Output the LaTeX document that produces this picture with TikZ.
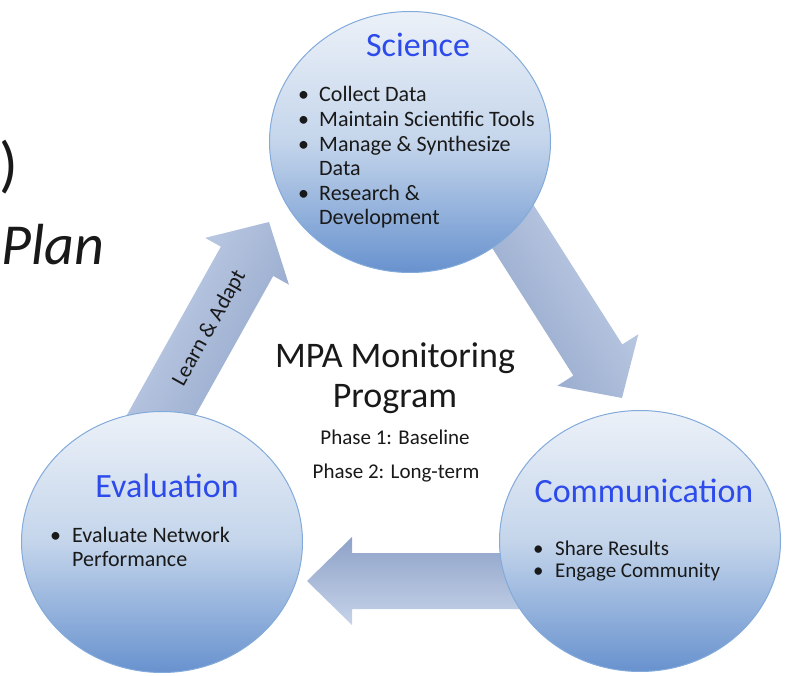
\documentclass[tikz,border=0pt]{standalone}
\usepackage{fontspec}
\setmainfont{Carlito}
\usetikzlibrary{calc,shapes.geometric}

\definecolor{titleblue}{RGB}{45,75,235}
\definecolor{ballhi}{RGB}{236,241,248}
\definecolor{ballmid}{RGB}{196,213,235}
\definecolor{balllo}{RGB}{104,146,206}
\definecolor{ballrim}{RGB}{130,170,218}
\definecolor{arrowhi}{RGB}{198,211,233}
\definecolor{arrowlo}{RGB}{142,162,200}
\definecolor{inktext}{RGB}{25,25,25}

% block arrow between two named points
\newcommand{\blockarrow}[6]{%
  \shade[top color=arrowhi, bottom color=arrowlo, shading angle=#6]
    let \p1=(#1), \p2=(#2),
        \n1={atan2(\y2-\y1,\x2-\x1)}, \n2={veclen(\x2-\x1,\y2-\y1)} in
    [shift={(\p1)}, rotate=\n1]
    (0,-#3) -- (\n2-#5,-#3) -- (\n2-#5,-#4) -- (\n2,0)
    -- (\n2-#5,#4) -- (\n2-#5,#3) -- (0,#3) -- cycle;}

\tikzset{
  ball/.style={ellipse, minimum width=281pt, minimum height=261pt, inner sep=0pt,
    top color=ballhi, bottom color=balllo, middle color=ballmid,
    draw=ballrim, line width=1pt},
  balltitle/.style={font=\fontsize{34}{40}\selectfont, text=titleblue,
    inner sep=0pt, anchor=base},
  items/.style={font=\fontsize{22}{24.6}\selectfont, text=inktext,
    inner sep=0pt, anchor=base west},
  maintext/.style={font=\fontsize{36}{40}\selectfont, text=inktext,
    inner sep=0pt, anchor=base},
  phasetext/.style={font=\fontsize{21}{24}\selectfont, text=inktext,
    inner sep=0pt, anchor=base},
}

\begin{document}
\begin{tikzpicture}[x=1pt,y=1pt]
  \useasboundingbox (0,0) rectangle (785,-676);
  \clip (0,0) rectangle (785,-676);

  % cut-off slide title
  \node[anchor=base east, inner sep=0pt, text=inktext,
    font=\fontsize{62}{70}\selectfont] (paren) at (18,-186) {)};
  \node[anchor=base west, inner sep=0pt, text=inktext,
    font=\fontsize{58}{70}\selectfont\itshape] (plan) at (1,-265) {Plan};

  % arrows
  \coordinate (la-from) at (150,-435);
  \coordinate (la-to) at (269,-222);
  \coordinate (sc-from) at (496,-200);
  \coordinate (sc-to) at (622,-398);
  \coordinate (ce-from) at (520,-581);
  \coordinate (ce-to) at (307,-581);
  \blockarrow{la-from}{la-to}{30}{48}{45}{60.8}
  \blockarrow{sc-from}{sc-to}{29}{48}{45}{-57.5}
  \blockarrow{ce-from}{ce-to}{28}{44}{45}{180}

  \node[font=\fontsize{22}{24}\selectfont, text=inktext, inner sep=0pt,
    rotate=60.8] (learn) at ($(la-from)!0.5!(la-to)$) {Learn \& Adapt};

  % circles
  \node[ball] (sci) at (410,-142) {};
  \node[ball] (eval) at (162,-542) {};
  \node[ball] (comm) at (640,-541) {};

  \node[balltitle] (sci-title) at (418,-57) {Science};
  \node[items] (sci-list) at (298,-102) {\begin{tabular}[t]{@{}p{21pt}@{}l@{}}
    \textbullet & Collect Data\\
    \textbullet & Maintain Scientific Tools\\
    \textbullet & Manage \& Synthesize\\
                & Data\\
    \textbullet & Research \&\\
                & Development
  \end{tabular}};

  \node[balltitle] (eval-title) at (167,-497) {Evaluation};
  \node[items] (eval-list) at (50,-542) {\begin{tabular}[t]{@{}p{22pt}@{}l@{}}
    \textbullet & Evaluate Network\\
                & Performance
  \end{tabular}};

  \node[balltitle] (comm-title) at (644,-502) {Communication};
  \node[items, font=\fontsize{21}{22}\selectfont] (comm-list) at (533,-555)
    {\begin{tabular}[t]{@{}p{22pt}@{}l@{}}
    \textbullet & Share Results\\
    \textbullet & Engage Community
  \end{tabular}};

  % program in the middle
  \node[maintext] (prog) at (395,-368) {MPA Monitoring};
  \node[maintext] (prog2) at (395,-408) {Program};
  \node[phasetext] (ph1) at (395,-445) {Phase 1: Baseline};
  \node[phasetext] (ph2) at (396,-478) {Phase 2: Long-term};
\end{tikzpicture}
\end{document}
